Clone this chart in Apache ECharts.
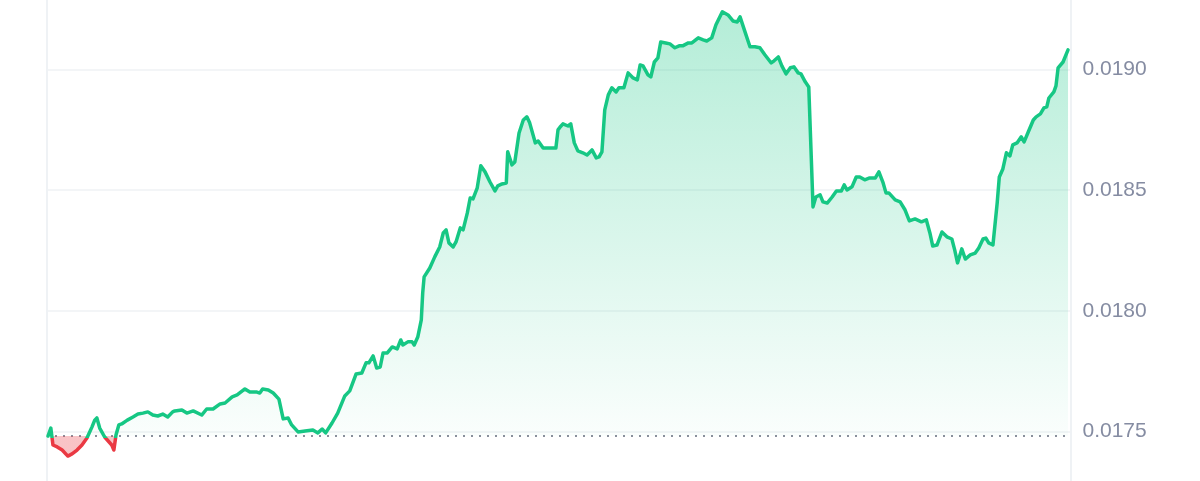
<!DOCTYPE html>
<html>
<head>
<meta charset="utf-8">
<script src="https://cdn.jsdelivr.net/npm/echarts@6/dist/echarts.min.js"></script>
<style>
html,body{margin:0;padding:0;background:#fff;}
#chart{width:1200px;height:481px;}
</style>
</head>
<body>
<div id="chart"></div>
<script>
// minutes since start of the 24h window
const times = [0,4,7,13,20,28,34,41,48,55,62,66,69,73,80,90,93,96,100,104,112,120,127,134,141,148,155,162,169,176,179,189,196,205,217,224,233,243,250,260,267,278,285,295,299,303,311,318,326,332,339,344,353,363,374,381,387,392,401,409,419,426,435,443,449,453,459,464,469,473,479,486,493,498,501,508,514,517,522,527,529,531,539,546,553,558,562,566,572,576,582,586,592,596,600,606,611,617,624,631,635,641,647,649,655,659,665,671,676,680,688,692,699,709,717,720,723,727,734,738,743,748,755,761,768,774,778,782,786,791,796,802,806,813,819,826,832,836,840,847,851,856,861,865,872,878,885,891,896,904,909,918,925,930,937,943,952,960,967,973,977,984,991,998,1005,1012,1021,1025,1031,1036,1042,1048,1053,1059,1063,1069,1074,1080,1084,1090,1094,1100,1107,1113,1120,1124,1128,1135,1141,1146,1153,1160,1168,1173,1179,1183,1187,1196,1203,1210,1216,1224,1233,1240,1245,1249,1255,1262,1269,1276,1280,1284,1290,1295,1302,1309,1314,1320,1324,1328,1334,1340,1343,1348,1353,1358,1362,1368,1374,1378,1384,1391,1395,1401,1406,1410,1413,1420,1423,1426,1433,1440];
const prices = [0.017482,0.017515,0.017445,0.017437,0.017424,0.017399,0.017408,0.017424,0.017445,0.017474,0.017519,0.017548,0.017557,0.017515,0.017478,0.017445,0.017424,0.017486,0.017528,0.017532,0.017548,0.017561,0.017573,0.017577,0.017582,0.017569,0.017565,0.017573,0.017561,0.017582,0.017586,0.017590,0.017577,0.017586,0.017569,0.017594,0.017594,0.017615,0.017619,0.017644,0.017652,0.017677,0.017664,0.017664,0.017660,0.017677,0.017673,0.017660,0.017635,0.017553,0.017557,0.017528,0.017499,0.017503,0.017507,0.017495,0.017511,0.017495,0.017536,0.017577,0.017648,0.017669,0.017739,0.017743,0.017785,0.017785,0.017814,0.017764,0.017768,0.017826,0.017826,0.017851,0.017843,0.017880,0.017859,0.017872,0.017872,0.017859,0.017892,0.017963,0.018075,0.018141,0.018178,0.018224,0.018265,0.018323,0.018336,0.018282,0.018265,0.018286,0.018344,0.018336,0.018406,0.018468,0.018464,0.018510,0.018601,0.018576,0.018534,0.018497,0.018518,0.018526,0.018530,0.018659,0.018605,0.018617,0.018737,0.018791,0.018804,0.018779,0.018696,0.018704,0.018675,0.018675,0.018675,0.018750,0.018762,0.018775,0.018766,0.018775,0.018696,0.018663,0.018655,0.018646,0.018667,0.018634,0.018638,0.018659,0.018833,0.018895,0.018924,0.018907,0.018924,0.018924,0.018986,0.018965,0.018957,0.019019,0.019015,0.018978,0.018969,0.019031,0.019048,0.019114,0.019110,0.019106,0.019090,0.019098,0.019098,0.019110,0.019110,0.019131,0.019123,0.019118,0.019131,0.019185,0.019239,0.019226,0.019201,0.019197,0.019218,0.019156,0.019094,0.019094,0.019090,0.019061,0.019027,0.019036,0.019052,0.019015,0.018982,0.019007,0.019011,0.018986,0.018982,0.018949,0.018928,0.018431,0.018472,0.018481,0.018452,0.018447,0.018472,0.018497,0.018497,0.018522,0.018501,0.018514,0.018555,0.018555,0.018543,0.018551,0.018551,0.018576,0.018530,0.018489,0.018489,0.018460,0.018452,0.018418,0.018373,0.018381,0.018369,0.018377,0.018323,0.018269,0.018273,0.018327,0.018307,0.018298,0.018253,0.018199,0.018257,0.018215,0.018232,0.018240,0.018261,0.018298,0.018302,0.018282,0.018273,0.018447,0.018555,0.018588,0.018655,0.018642,0.018688,0.018696,0.018721,0.018700,0.018742,0.018791,0.018804,0.018816,0.018841,0.018845,0.018882,0.018907,0.018932,0.019007,0.019031,0.019081];
const baseline = 0.017482;          // opening price (dotted line)
const yRange = [0.0172958, 0.0192878];
const xRange = [-1.4, 1443.5];

const pMax = Math.max(...prices), pMin = Math.min(...prices);
const split = (pMax - baseline) / (pMax - pMin);

const lineGrad = new echarts.graphic.LinearGradient(0, 0, 0, 1, [
  { offset: 0, color: '#16c784' },
  { offset: split, color: '#16c784' },
  { offset: split, color: '#ea3943' },
  { offset: 1, color: '#ea3943' }
]);
const areaGrad = new echarts.graphic.LinearGradient(0, 0, 0, 1, [
  { offset: 0, color: 'rgba(22,199,132,0.32)' },
  { offset: split, color: 'rgba(22,199,132,0.02)' },
  { offset: split, color: 'rgba(234,57,67,0.3)' },
  { offset: 1, color: 'rgba(234,57,67,0.3)' }
]);

const chart = echarts.init(document.getElementById('chart'));
chart.setOption({
  animation: false,
  backgroundColor: '#ffffff',
  grid: { left: 47, right: 129.5, top: 0, bottom: 0 },
  xAxis: { type: 'value', min: xRange[0], max: xRange[1], show: false },
  yAxis: [
    {
      type: 'value', position: 'right', min: yRange[0], max: yRange[1], splitNumber: 4,
      axisLine: { show: true, onZero: false, lineStyle: { color: '#eff2f5', width: 2 } },
      axisTick: { show: false },
      axisLabel: {
        margin: 12, color: '#858ca2', fontSize: 21, fontFamily: 'Liberation Sans, Arial, sans-serif',
        showMinLabel: false, showMaxLabel: false,
        formatter: v => v.toFixed(4)
      },
      splitLine: { show: true, showMinLine: false, showMaxLine: false, lineStyle: { color: '#eff2f5', width: 1.5 } }
    },
    {
      type: 'value', position: 'left', min: yRange[0], max: yRange[1],
      axisLine: { show: true, onZero: false, lineStyle: { color: '#eff2f5', width: 2 } },
      axisTick: { show: false }, axisLabel: { show: false }, splitLine: { show: false }
    }
  ],
  series: [
    {
      type: 'line',
      data: [[xRange[0], baseline], [xRange[1], baseline]],
      symbol: 'none', silent: true, z: 1,
      lineStyle: { color: '#8a8f9c', type: [2, 6], width: 2 }
    },
    {
      type: 'line',
      data: times.map((t, i) => [t, prices[i]]),
      symbol: 'none', z: 2,
      color: '#16c784',
      lineStyle: { width: 3.5, join: 'round', cap: 'round', color: lineGrad },
      areaStyle: { origin: baseline, opacity: 1, color: areaGrad }
    }
  ]
});
</script>
</body>
</html>
